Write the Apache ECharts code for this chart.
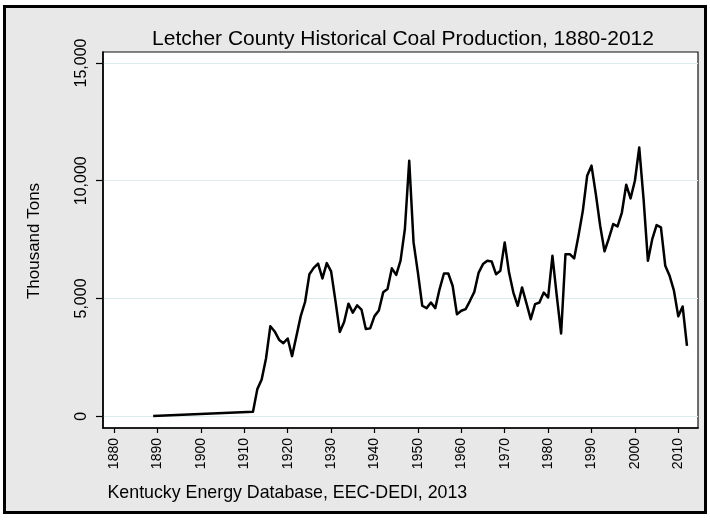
<!DOCTYPE html>
<html>
<head>
<meta charset="utf-8">
<title>Letcher County Historical Coal Production, 1880-2012</title>
<script src="https://cdn.jsdelivr.net/npm/echarts@6/dist/echarts.min.js"></script>
<style>
  html, body { margin: 0; padding: 0; background: #ffffff; }
  #chart { width: 710px; height: 520px; }
</style>
</head>
<body>
<div id="chart"></div>
<script>
// Annual coal production, Letcher County (thousand tons)
const years = [
  1889, 1912, 1913, 1914, 1915, 1916, 1917, 1918, 1919, 1920,
  1921, 1922, 1923, 1924, 1925, 1926, 1927, 1928, 1929, 1930,
  1931, 1932, 1933, 1934, 1935, 1936, 1937, 1938, 1939, 1940,
  1941, 1942, 1943, 1944, 1945, 1946, 1947, 1948, 1949, 1950,
  1951, 1952, 1953, 1954, 1955, 1956, 1957, 1958, 1959, 1960,
  1961, 1962, 1963, 1964, 1965, 1966, 1967, 1968, 1969, 1970,
  1971, 1972, 1973, 1974, 1975, 1976, 1977, 1978, 1979, 1980,
  1981, 1982, 1983, 1984, 1985, 1986, 1987, 1988, 1989, 1990,
  1991, 1992, 1993, 1994, 1995, 1996, 1997, 1998, 1999, 2000,
  2001, 2002, 2003, 2004, 2005, 2006, 2007, 2008, 2009, 2010,
  2011, 2012
];
const production = [
  10, 190, 1150, 1560, 2450, 3820, 3600, 3250, 3100, 3300,
  2550, 3400, 4250, 4850, 6030, 6300, 6480, 5850, 6500, 6150,
  4900, 3580, 4000, 4780, 4400, 4710, 4530, 3700, 3730, 4250,
  4490, 5260, 5400, 6280, 6000, 6610, 7950, 10850, 7380, 6100,
  4690, 4590, 4830, 4590, 5400, 6060, 6060, 5540, 4330, 4480,
  4550, 4900, 5280, 6100, 6460, 6600, 6570, 6030, 6180, 7380,
  6100, 5250, 4690, 5470, 4800, 4120, 4760, 4830, 5250, 5040,
  6810, 5110, 3510, 6880, 6880, 6700, 7660, 8720, 10210, 10640,
  9430, 8090, 7000, 7550, 8160, 8060, 8650, 9830, 9250, 10000,
  11410, 9220, 6600, 7520, 8115, 8020, 6390, 5960, 5330, 4240,
  4660, 2990
];

// Tick positions
const xTicks = [1880, 1890, 1900, 1910, 1920, 1930, 1940, 1950, 1960, 1970, 1980, 1990, 2000, 2010];
const yTicks = [0, 5000, 10000, 15000];

const titleText = 'Letcher County Historical Coal Production, 1880-2012';
const yTitle = 'Thousand Tons';
const sourceNote = 'Kentucky Energy Database, EEC-DEDI, 2013';

const FONT = '"Liberation Sans", Arial, sans-serif';

const seriesData = years.map((y, i) => [y, production[i]]);

const chart = echarts.init(document.getElementById('chart'), null, { renderer: 'canvas' });

chart.setOption({
  backgroundColor: '#ffffff',
  animation: false,
  graphic: [
    {
      type: 'rect',
      z: -10,
      silent: true,
      shape: { x: 4.5, y: 6.5, width: 701, height: 506 },
      style: { fill: '#e8e8e8', stroke: '#000000', lineWidth: 3 }
    },
    {
      type: 'text',
      x: 403, y: 39,
      style: {
        text: titleText, fill: '#000000',
        font: '21px ' + FONT,
        textAlign: 'center', textVerticalAlign: 'middle'
      }
    },
    {
      type: 'text',
      x: 34, y: 241,
      rotation: Math.PI / 2,
      style: {
        text: yTitle, fill: '#000000',
        font: '17px ' + FONT,
        textAlign: 'center', textVerticalAlign: 'middle'
      }
    },
    {
      type: 'text',
      x: 107.5, y: 493,
      style: {
        text: sourceNote, fill: '#000000',
        font: '17.8px ' + FONT,
        textAlign: 'left', textVerticalAlign: 'middle'
      }
    }
  ],
  grid: {
    left: 103, right: 12, top: 52, bottom: 92,
    show: true,
    backgroundColor: '#ffffff',
    borderColor: '#111111',
    borderWidth: 1.2
  },
  xAxis: {
    type: 'value',
    min: 1877.44,
    max: 2014.54,
    axisLine: { show: true, onZero: false, lineStyle: { color: '#000000', width: 1.6 } },
    axisTick: {
      show: true, length: 5, inside: false,
      customValues: xTicks,
      lineStyle: { color: '#000000', width: 1.2 }
    },
    axisLabel: {
      show: true, rotate: 90, margin: 10,
      customValues: xTicks,
      color: '#000000', fontFamily: FONT, fontSize: 14,
      formatter: v => String(v)
    },
    splitLine: { show: false }
  },
  yAxis: {
    type: 'value',
    min: -501,
    max: 15467,
    axisLine: { show: true, onZero: false, lineStyle: { color: '#000000', width: 1.6 } },
    axisTick: {
      show: true, length: 7, inside: false,
      customValues: yTicks,
      lineStyle: { color: '#000000', width: 1.2 }
    },
    axisLabel: {
      show: true, rotate: 90, margin: 13,
      customValues: yTicks,
      color: '#000000', fontFamily: FONT, fontSize: 16,
      formatter: v => v.toLocaleString('en-US')
    },
    splitLine: { show: true, lineStyle: { color: '#dcecec', width: 1.2 } }
  },
  series: [
    {
      type: 'line',
      data: seriesData,
      showSymbol: false,
      symbol: 'none',
      lineStyle: { color: '#000000', width: 2.5, join: 'round' },
      z: 5
    }
  ]
});
</script>
</body>
</html>
